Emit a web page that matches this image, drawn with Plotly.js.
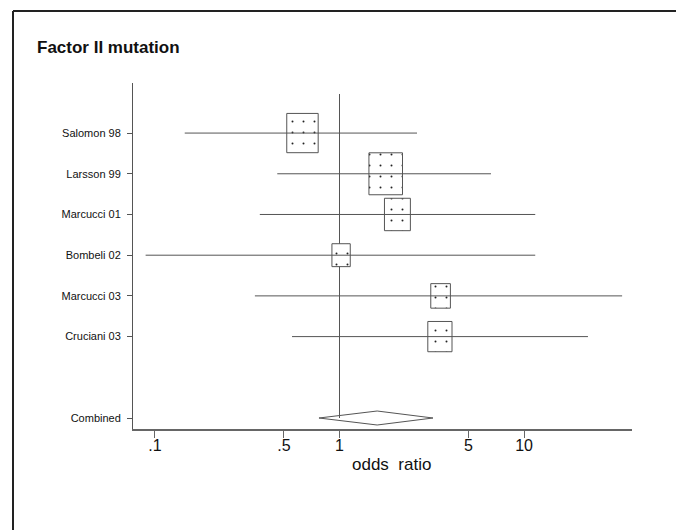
<!DOCTYPE html>
<html>
<head>
<meta charset="utf-8">
<script src="https://cdn.plot.ly/plotly-3.0.1.min.js"></script>
<style>html,body{margin:0;padding:0;background:#fff;overflow:hidden;}#chart{width:676px;height:530px;}</style>
</head>
<body>
<div id="chart"></div>
<script>
// ---- data ----
const studies   = ['Salomon 98', 'Larsson 99', 'Marcucci 01', 'Bombeli 02', 'Marcucci 03', 'Cruciani 03'];
const oddsRatio = [0.63, 1.78, 2.06, 1.02, 3.53, 3.50];
const ciLow     = [0.145, 0.46, 0.37, 0.089, 0.348, 0.553];
const ciHigh    = [2.63, 6.62, 11.5, 11.5, 34.0, 22.2];
const weights   = [24.1, 27.5, 16.4, 8.2, 9.4, 14.3];   // % weight (box area)
const pooledLabel = 'Combined';
const pooledOR    = 1.60;
const pooledLow   = 0.774;
const pooledHigh  = 3.21;
const xTickVals = [0.1, 0.5, 1, 5, 10];
const xTickText = ['.1', '.5', '1', '5', '10'];

// ---- layout geometry ----
const W = 676, H = 530;
const M = {l: 133, r: 44, t: 83, b: 101};
const xRange = [-1.119, 1.585];
const yRange = [7.27, -1.23];
const plotW = W - M.l - M.r, plotH = H - M.t - M.b;
const pxPerDecade = plotW / (xRange[1] - xRange[0]);
const pxPerRow = plotH / (yRange[0] - yRange[1]);

const rowY = studies.map((_, i) => i);
const pooledY = studies.length + 1;

const traces = [];
// reference line at OR = 1
traces.push({x: [1, 1], y: [-0.96, pooledY], mode: 'lines',
  line: {color: '#555', width: 1}, hoverinfo: 'skip', showlegend: false});

// weighted boxes
studies.forEach((s, i) => {
  const hPx = 8.0 * Math.sqrt(weights[i]);
  const wPx = 0.8 * hPx;
  const hw = (wPx / 2) / pxPerDecade;
  const hh = (hPx / 2) / pxPerRow;
  const xl = oddsRatio[i] * Math.pow(10, -hw), xr = oddsRatio[i] * Math.pow(10, hw);
  const y0 = rowY[i] - hh, y1 = rowY[i] + hh;
  traces.push({x: [xl, xr, xr, xl, xl], y: [y0, y0, y1, y1, y0],
    mode: 'lines', fill: 'toself', fillcolor: 'white',
    fillpattern: {shape: '.', fgcolor: '#222', bgcolor: 'white', size: 11, solidity: 0.025},
    line: {color: '#555', width: 1}, hoverinfo: 'skip', showlegend: false});
});

// confidence intervals
studies.forEach((s, i) => {
  traces.push({x: [ciLow[i], ciHigh[i]], y: [rowY[i], rowY[i]], mode: 'lines',
    line: {color: '#555', width: 1}, hoverinfo: 'skip', showlegend: false});
});

// pooled diamond
const dh = 7 / pxPerRow;
traces.push({x: [pooledLow, pooledOR, pooledHigh, pooledOR, pooledLow],
  y: [pooledY, pooledY - dh, pooledY, pooledY + dh, pooledY],
  mode: 'lines', line: {color: '#555', width: 1}, hoverinfo: 'skip', showlegend: false});

const font = 'Liberation Sans, Arial, Helvetica, sans-serif';
const fx0 = (13 - M.l) / plotW, fy1 = (H - M.b - 11) / plotH;
const fx1 = (W - M.l) / plotW, fy0 = -M.b / plotH;
const layout = {
  width: W, height: H,
  margin: M,
  paper_bgcolor: 'white', plot_bgcolor: 'white',
  showlegend: false,
  font: {family: font, color: '#111'},
  title: {text: '<b>Factor II mutation</b>', x: 37 / W, xanchor: 'left', xref: 'container',
    y: 1 - 47 / H, yanchor: 'middle', yref: 'container',
    font: {family: font, size: 17, color: '#111'}},
  xaxis: {type: 'log', range: xRange, showgrid: false, zeroline: false,
    showline: true, linecolor: '#666', linewidth: 1.5,
    ticks: 'outside', ticklen: 7, tickcolor: '#666', tickwidth: 1,
    tickvals: xTickVals, ticktext: xTickText, ticklabelstandoff: -6,
    tickfont: {family: font, size: 16, color: '#111'}},
  yaxis: {range: yRange, showgrid: false, zeroline: false,
    showline: true, linecolor: '#555', linewidth: 1,
    ticks: 'outside', ticklen: 5, tickcolor: '#555', tickwidth: 1,
    tickvals: rowY.concat([pooledY]), ticktext: studies.concat([pooledLabel]),
    tickfont: {family: font, size: 11, color: '#111'}, ticklabelstandoff: 4},
  annotations: [{text: 'odds\u00a0 ratio', xref: 'paper', yref: 'paper',
    x: (391 - M.l) / plotW, y: (H - M.b - 464) / plotH,
    xanchor: 'center', yanchor: 'middle', showarrow: false,
    font: {family: font, size: 17, color: '#111'}}],
  shapes: [
    {type: 'line', xref: 'paper', yref: 'paper', x0: fx0, x1: fx0, y0: fy0, y1: fy1,
      line: {color: '#222', width: 2}},
    {type: 'line', xref: 'paper', yref: 'paper', x0: fx0, x1: fx1, y0: fy1, y1: fy1,
      line: {color: '#222', width: 2}}
  ]
};

Plotly.newPlot('chart', traces, layout, {staticPlot: true, displayModeBar: false});
</script>
</body>
</html>
